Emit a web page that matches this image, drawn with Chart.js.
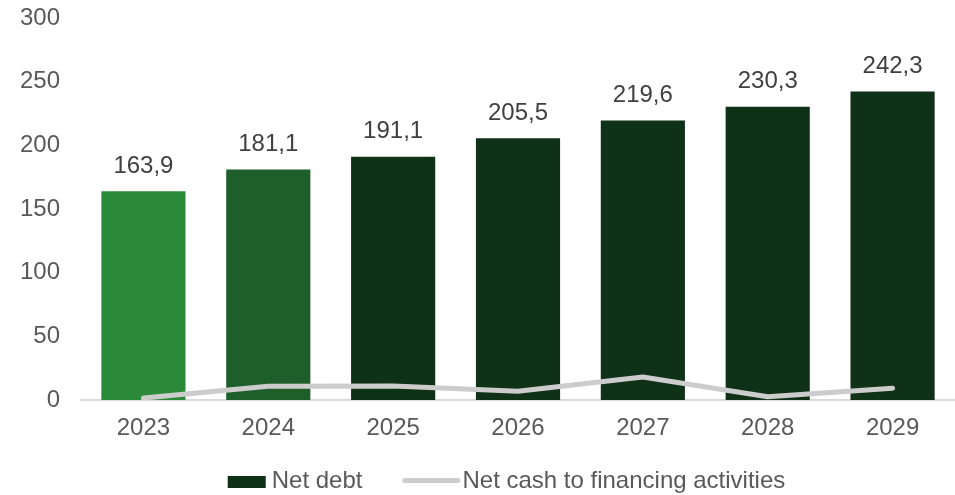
<!DOCTYPE html>
<html>
<head>
<meta charset="utf-8">
<script src="https://cdn.jsdelivr.net/npm/chart.js@4.4.1/dist/chart.umd.min.js"></script>
<style>
  html, body { margin: 0; padding: 0; background: #ffffff; }
  #wrap { width: 955px; height: 495px; }
</style>
</head>
<body>
<div id="wrap"><canvas id="grafico"></canvas></div>
<script>
// --- datos ---
const anios = ["2023", "2024", "2025", "2026", "2027", "2028", "2029"];
const deudaNeta = [163.9, 181.1, 191.1, 205.5, 219.6, 230.3, 242.3];
const cajaFinanciacion = [1.5, 10.8, 11.0, 6.8, 18.0, 2.6, 9.3];
const coloresBarras = ["#2b8a3a", "#1e5e2a", "#0f3117", "#0f3117", "#0f3117", "#0f3117", "#0f3117"];

const FUENTE = "'Liberation Sans', Arial, sans-serif";
const fmt = v => v.toFixed(1).replace(".", ",");

// etiquetas de valor encima de cada barra
const etiquetasBarras = {
  id: "etiquetasBarras",
  afterDatasetsDraw(chart) {
    const ctx = chart.ctx;
    const meta = chart.getDatasetMeta(0);
    ctx.save();
    ctx.font = "24px " + FUENTE;
    ctx.fillStyle = "#404040";
    ctx.textAlign = "center";
    ctx.textBaseline = "middle";
    meta.data.forEach((bar, i) => {
      ctx.fillText(fmt(deudaNeta[i]), bar.x, bar.y - 25);
    });
    ctx.restore();
  }
};

// leyenda abajo: cuadro para barras, trazo para la linea
const leyenda = {
  id: "leyenda",
  afterDraw(chart) {
    const ctx = chart.ctx;
    const ds = chart.data.datasets;
    ctx.save();
    ctx.font = "24px " + FUENTE;
    ctx.textBaseline = "alphabetic";
    const w1 = ctx.measureText(ds[0].label).width;
    const w2 = ctx.measureText(ds[1].label).width;
    const total = 38 + 6 + w1 + 40 + 58 + 2 + w2;
    let x = chart.width / 2 + 29 - total / 2;
    const base = 487.5;

    ctx.fillStyle = "#0f3117";
    ctx.fillRect(x, 476, 38, 12);
    x += 38 + 6;
    ctx.fillStyle = "#595959";
    ctx.fillText(ds[0].label, x, base);
    x += w1 + 40;

    ctx.strokeStyle = "#cccccc";
    ctx.lineWidth = 5;
    ctx.lineCap = "round";
    ctx.beginPath();
    ctx.moveTo(x + 2.5, 480.5);
    ctx.lineTo(x + 58 - 2.5, 480.5);
    ctx.stroke();
    x += 58 + 2;
    ctx.fillText(ds[1].label, x, base);
    ctx.restore();
  }
};

new Chart(document.getElementById("grafico"), {
  type: "bar",
  data: {
    labels: anios,
    datasets: [
      {
        type: "bar",
        label: "Net debt",
        data: deudaNeta,
        backgroundColor: coloresBarras,
        barPercentage: 0.674,
        categoryPercentage: 1,
        order: 1
      },
      {
        type: "line",
        label: "Net cash to financing activities",
        data: cajaFinanciacion,
        borderColor: "#cccccc",
        borderWidth: 5,
        borderCapStyle: "round",
        borderJoinStyle: "round",
        pointRadius: 0,
        tension: 0,
        order: 0
      }
    ]
  },
  options: {
    responsive: true,
    maintainAspectRatio: false,
    animation: false,
    layout: { padding: { top: 18, right: -2, bottom: 55, left: 0 } },
    plugins: {
      legend: { display: false },
      tooltip: { enabled: false }
    },
    scales: {
      x: {
        grid: { display: false, drawTicks: false },
        border: { display: true, color: "#d9d9d9", width: 2 },
        ticks: { color: "#595959", font: { family: FUENTE, size: 24 }, padding: 14 },
        afterFit(scale) { scale.height = 40; }
      },
      y: {
        min: 0,
        max: 300,
        grid: { display: false, drawTicks: false },
        border: { display: false },
        ticks: { stepSize: 50, color: "#595959", font: { family: FUENTE, size: 24 }, padding: 21 },
        afterFit(scale) {
          scale.width = 81;
          scale.paddingTop = 0;
          scale.paddingBottom = 0;
        }
      }
    }
  },
  plugins: [etiquetasBarras, leyenda]
});
</script>
</body>
</html>
